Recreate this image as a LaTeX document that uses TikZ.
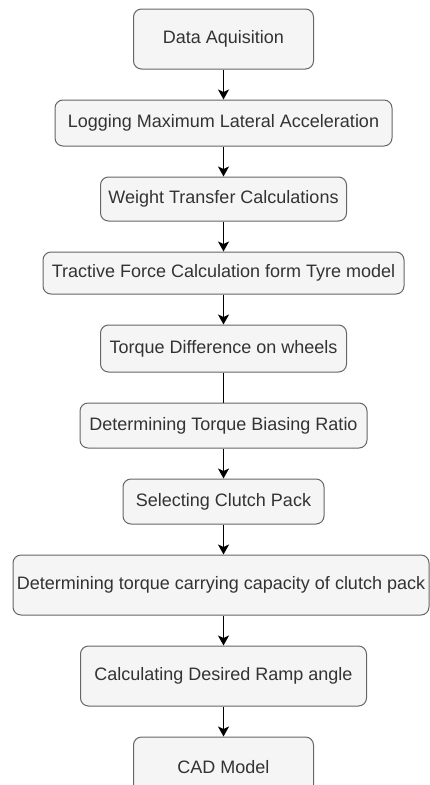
\documentclass[tikz,border=0pt]{standalone}
\usepackage{fontspec}
\setmainfont{Liberation Sans}
\usepackage{tikz}
\usetikzlibrary{arrows.meta,positioning,calc}
\definecolor{boxfill}{HTML}{F5F5F5}
\definecolor{boxline}{HTML}{666666}
\definecolor{boxtext}{HTML}{333333}

\begin{document}
\begin{tikzpicture}[
    stage/.style = {rectangle, draw=boxline, fill=boxfill, line width=1pt,
                    rounded corners=8pt, inner sep=0pt, align=center,
                    font=\fontsize{18}{21.6}\selectfont\color{boxtext}},
    arr/.style   = {-{Stealth[length=10pt,width=11pt,inset=2.5pt]}, line width=1.4pt, draw=black},
    lnk/.style   = {line width=1.4pt, draw=black},
    node distance = 30pt
  ]
    \useasboundingbox (0,0) rectangle (430pt,-785pt);

    \node[stage, minimum width=180pt, minimum height=60pt] (acq) at (223.5pt,-39pt) {Data Aquisition};
    \node[stage, minimum width=337pt, minimum height=46pt, below=of acq]   (lat)    {Logging Maximum Lateral Acceleration};
    \node[stage, minimum width=246pt, minimum height=44pt, below=of lat]   (wt)     {Weight Transfer Calculations};
    \node[stage, minimum width=361pt, minimum height=42pt, below=of wt]    (tract)  {Tractive Force Calculation form Tyre model};
    \node[stage, minimum width=246pt, minimum height=47pt, below=of tract] (tdiff)  {Torque Difference on wheels};
    \node[stage, minimum width=287pt, minimum height=45pt, below=of tdiff] (tbr)    {Determining Torque Biasing Ratio};
    \node[stage, minimum width=201pt, minimum height=45pt, below=of tbr]   (clutch) {Selecting Clutch Pack};
    \node[stage, minimum width=416pt, minimum height=60pt, below=of clutch, xshift=-2.5pt] (cap) {Determining torque carrying capacity of clutch pack};
    \node[stage, minimum width=286pt, minimum height=60pt, below=of cap, xshift=2.5pt] (ramp) {Calculating Desired Ramp angle};
    \node[stage, minimum width=180pt, minimum height=60pt, below=of ramp]  (cad)    {CAD Model};

    \draw[arr] (acq)   -- (lat);
    \draw[arr] (lat)   -- (wt);
    \draw[arr] (wt)    -- (tract);
    \draw[arr] (tract) -- (tdiff);
    \draw[lnk] (tdiff) -- (tbr);
    \draw[arr] (tbr)   -- (clutch);
    \draw[arr] (clutch) -- (clutch |- cap.north);
    \draw[arr] (cap.south -| ramp) -- (ramp);
    \draw[arr] (ramp)  -- (cad);
  \end{tikzpicture}
\end{document}
